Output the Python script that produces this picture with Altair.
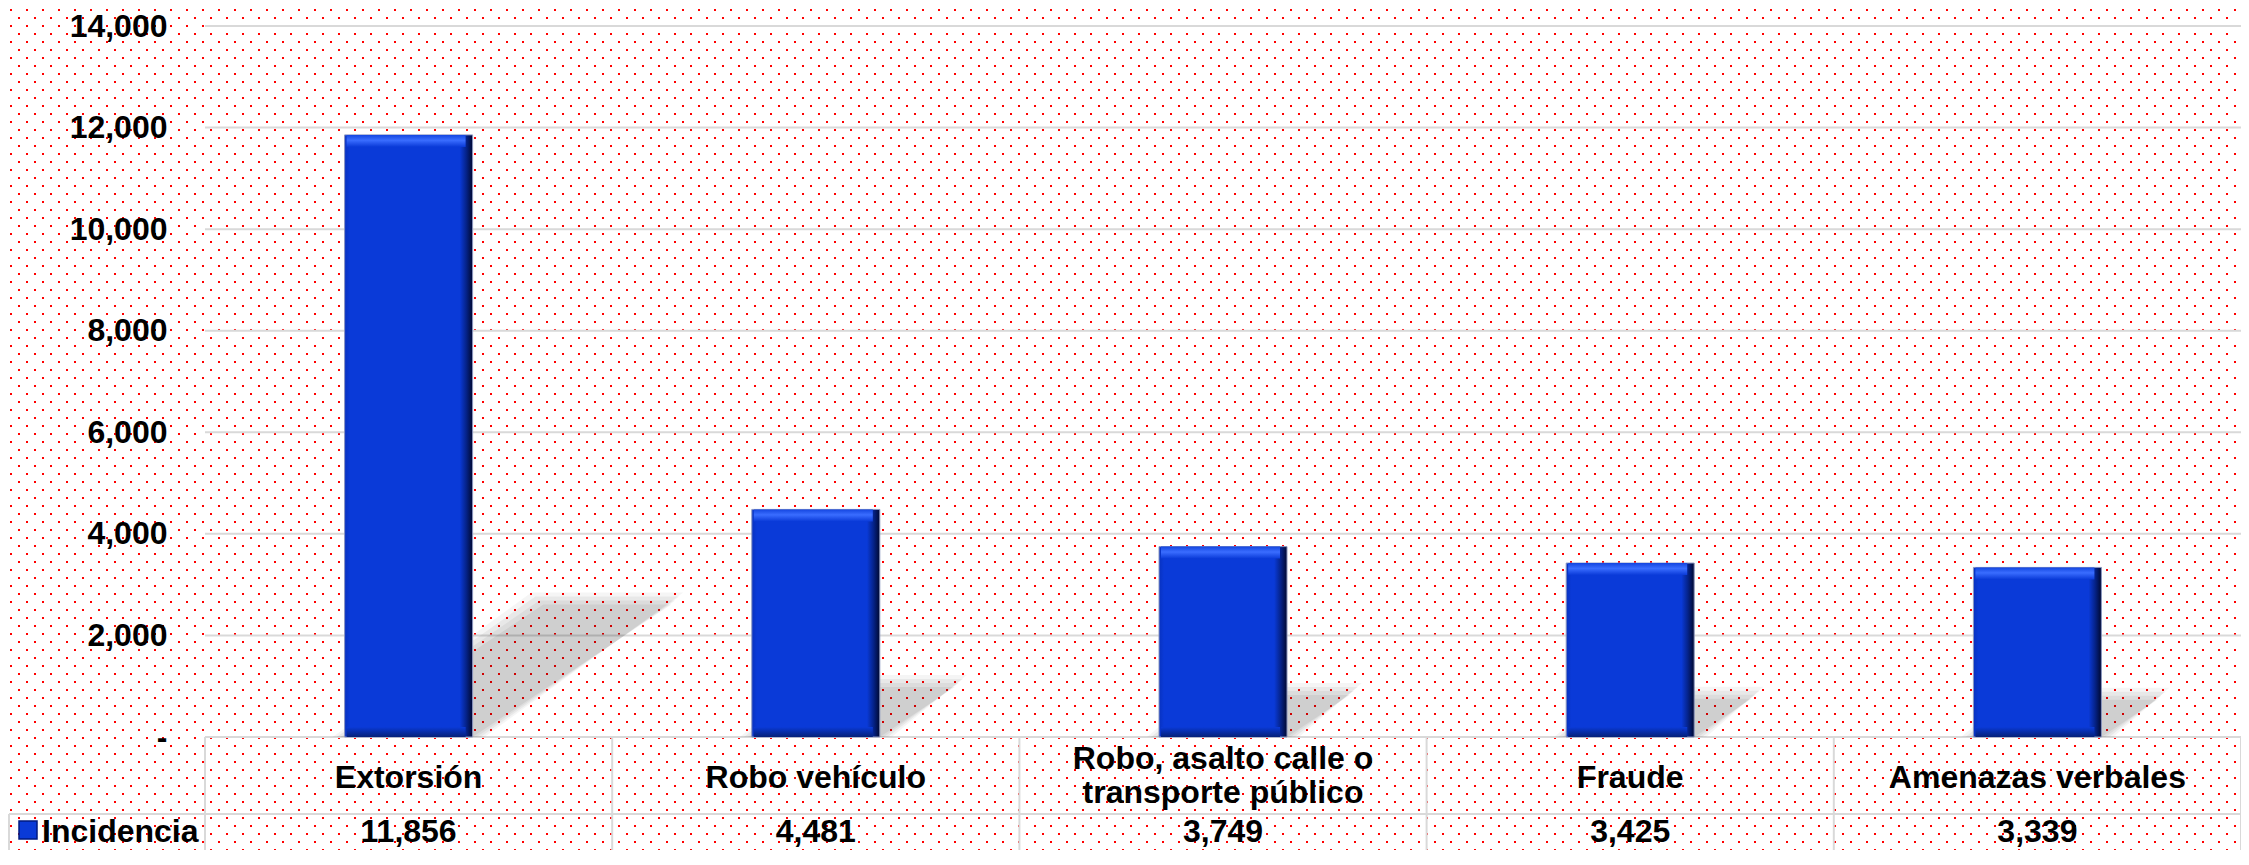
import altair as alt
import pandas as pd
from urllib.parse import quote

# ---------------- data ----------------
categories = ["Extorsión", "Robo vehículo", "Robo, asalto calle o\ntransporte público",
              "Fraude", "Amenazas verbales"]
values = [11856, 4481, 3749, 3425, 3339]
y_ticks = [0, 2000, 4000, 6000, 8000, 10000, 12000, 14000]
series_name = "Incidencia"

# ---------------- layout ----------------
W, H = 2036, 711
TOTAL_W, TOTAL_H = 2233, 842
TOP = 18
PAD = {"left": 197, "top": TOP, "right": 0, "bottom": TOTAL_H - TOP - H}
BOTTOM = TOTAL_H - TOP          # plot-relative y of chart bottom
YMAX = 14000
N = len(categories)
PXX = W / N           # px per x unit
PXY = H / YMAX        # px per y unit
HW = 64 / PXX         # half bar width in x units
FONT = "Liberation Sans"
GRID = "#d9d9d9"
ROW_SEP = H + 77      # separator between category row and value row
VAL_BASE = BOTTOM - 8

df = pd.DataFrame({"idx": list(range(N)), "cat": categories, "value": values})
df["label"] = df["value"].map(lambda v: f"{v:,}")
df["lines"] = df["cat"].map(lambda s: s.count("\n") + 1)

x_scale = alt.Scale(domain=[-0.5, N - 0.5], nice=False, zero=False)
y_scale = alt.Scale(domain=[0, YMAX], nice=False)

# ---------------- background dot pattern ----------------
svg = (f"<svg xmlns='http://www.w3.org/2000/svg' width='{TOTAL_W}' height='{TOTAL_H}'>"
       "<defs><pattern id='d' x='0' y='0' width='16' height='16' patternUnits='userSpaceOnUse'>"
       "<rect x='2' y='1' width='2' height='2' fill='#ff0000'/>"
       "<rect x='10' y='9' width='2' height='2' fill='#ff0000'/>"
       "</pattern></defs><rect width='100%' height='100%' fill='url(#d)'/></svg>")
url = "data:image/svg+xml;charset=utf-8," + quote(svg)
bg = alt.Chart(alt.Data(values=[{"u": url}])).mark_image(
    align="left", baseline="top", width=TOTAL_W, height=TOTAL_H, aspect=False
).encode(x=alt.value(-PAD["left"]), y=alt.value(-TOP), url="u:N")

# ---------------- gridlines + y axis ----------------
grid = alt.Chart(pd.DataFrame({"tick": y_ticks})).mark_rule(color=GRID, strokeWidth=2).encode(
    y=alt.Y("tick:Q", scale=y_scale, axis=alt.Axis(
        values=y_ticks, title=None, grid=False, ticks=False, domain=False, zindex=2,
        labelFont=FONT, labelFontSize=32, labelFontWeight="bold", labelColor="#000000",
        labelPadding=38, labelOverlap=False,
        labelExpr="datum.value == 0 ? '-\u00a0\u00a0' : format(datum.value, ',')")),
    x=alt.value(0), x2=alt.value(W))

# ---------------- data table lines ----------------
one = alt.Data(values=[{"a": 1}])
row_sep = alt.Chart(one).mark_rule(color=GRID, strokeWidth=2).encode(
    x=alt.value(-PAD["left"] + 1), x2=alt.value(W), y=alt.value(ROW_SEP))
legend_left = alt.Chart(one).mark_rule(color=GRID, strokeWidth=2).encode(
    x=alt.value(-PAD["left"] + 1), y=alt.value(ROW_SEP), y2=alt.value(BOTTOM))
bounds = pd.DataFrame({"b": [i - 0.5 for i in range(N + 1)]})
col_lines = alt.Chart(bounds).mark_rule(color=GRID, strokeWidth=2).encode(
    x=alt.X("b:Q", scale=x_scale, axis=None), y=alt.value(H), y2=alt.value(BOTTOM))

# ---------------- shadows ----------------
def shadow_frame(e):
    rows = []
    ex = e / PXX
    for i, v in zip(range(N), values):
        hs = 0.22 * v
        dx = 1.5 * hs * PXY / PXX
        rows.append({"k": i, "y": 0, "xl": i - HW - ex, "xr": i + HW + ex})
        rows.append({"k": i, "y": hs + e / PXY, "xl": i - HW + dx - ex, "xr": i + HW + dx + ex})
    return pd.DataFrame(rows)

shadows = []
for e, op in [(12, 0.04), (8, 0.05), (4, 0.05), (0, 0.06)]:
    shadows.append(alt.Chart(shadow_frame(e)).mark_area(
        orient="horizontal", color="#000000", opacity=op).encode(
        y=alt.Y("y:Q", scale=y_scale, axis=None),
        x=alt.X("xl:Q", scale=x_scale, axis=None), x2="xr:Q", detail="k:N"))

# ---------------- bars ----------------
base = alt.Chart(df).transform_calculate(
    xl=f"datum.idx - {HW}", xr=f"datum.idx + {HW}", zero="0",
    bl=f"datum.idx - {HW} + {2 / PXX}", br=f"datum.idx + {HW} - {7 / PXX}",
    top2=f"datum.value - {12 / PXY}", bot2=f"{10 / PXY}")

main_fill = alt.Gradient(gradient="linear", x1=0, x2=1, y1=0, y2=0, stops=[
    alt.GradientStop(color="#0832c0", offset=0),
    alt.GradientStop(color="#0a3ad8", offset=0.04),
    alt.GradientStop(color="#0a3ad8", offset=0.9),
    alt.GradientStop(color="#05238a", offset=0.95),
    alt.GradientStop(color="#000830", offset=1)])
bars = base.mark_bar(fill=main_fill, stroke="#8a96c0", strokeWidth=1).encode(
    x=alt.X("xl:Q", scale=x_scale, axis=None), x2="xr:Q",
    y=alt.Y("value:Q", scale=y_scale, axis=None), y2="zero:Q")

top_fill = alt.Gradient(gradient="linear", x1=0, x2=0, y1=0, y2=1, stops=[
    alt.GradientStop(color="#1446e0", offset=0),
    alt.GradientStop(color="#3a6dff", offset=0.45),
    alt.GradientStop(color="#0a3ad8", offset=1)])
top_bevel = base.mark_bar(fill=top_fill).encode(
    x=alt.X("bl:Q", scale=x_scale, axis=None), x2="br:Q",
    y=alt.Y("value:Q", scale=y_scale, axis=None), y2="top2:Q")

bot_fill = alt.Gradient(gradient="linear", x1=0, x2=0, y1=0, y2=1, stops=[
    alt.GradientStop(color="#0a3ad8", offset=0),
    alt.GradientStop(color="#062a9e", offset=0.6),
    alt.GradientStop(color="#04207a", offset=1)])
bot_bevel = base.mark_bar(fill=bot_fill).encode(
    x=alt.X("bl:Q", scale=x_scale, axis=None), x2="br:Q",
    y=alt.Y("bot2:Q", scale=y_scale, axis=None), y2="zero:Q")

# ---------------- table texts ----------------
txt = dict(font=FONT, fontSize=32, fontWeight="bold", color="#000000", align="center",
           baseline="alphabetic")
cat_single = alt.Chart(df).transform_filter("datum.lines == 1").mark_text(
    **txt).encode(x=alt.X("idx:Q", scale=x_scale, axis=None), y=alt.value(H + 51),
                  text="cat:N")
cat_multi = alt.Chart(df).transform_filter("datum.lines > 1").mark_text(
    lineBreak="\n", lineHeight=34, **txt).encode(
    x=alt.X("idx:Q", scale=x_scale, axis=None), y=alt.value(H + 32), text="cat:N")
val_text = alt.Chart(df).mark_text(**txt).encode(
    x=alt.X("idx:Q", scale=x_scale, axis=None), y=alt.value(VAL_BASE), text="label:N")
leg_text = alt.Chart(alt.Data(values=[{"s": series_name}])).mark_text(
    font=FONT, fontSize=32, fontWeight="bold", color="#000000", align="left",
    baseline="alphabetic").encode(x=alt.value(-163), y=alt.value(VAL_BASE), text="s:N")
leg_key = alt.Chart(alt.Data(values=[{"s": series_name}])).mark_square(
    size=324, fill="#0a3ad8", stroke="#001a80", strokeWidth=1.5, opacity=1).encode(
    x=alt.value(-177), y=alt.value(VAL_BASE - 12))

chart = alt.layer(
    bg, grid, row_sep, legend_left, col_lines, *shadows, bars, top_bevel, bot_bevel,
    cat_single, cat_multi, val_text, leg_text, leg_key
).resolve_axis(x="independent", y="independent").properties(
    width=W, height=H, padding=PAD, background="#ffffff",
    autosize=alt.AutoSizeParams(type="none")
).configure_view(stroke=None)

chart.save("out.html", embed_options={"renderer": "svg", "actions": False})
